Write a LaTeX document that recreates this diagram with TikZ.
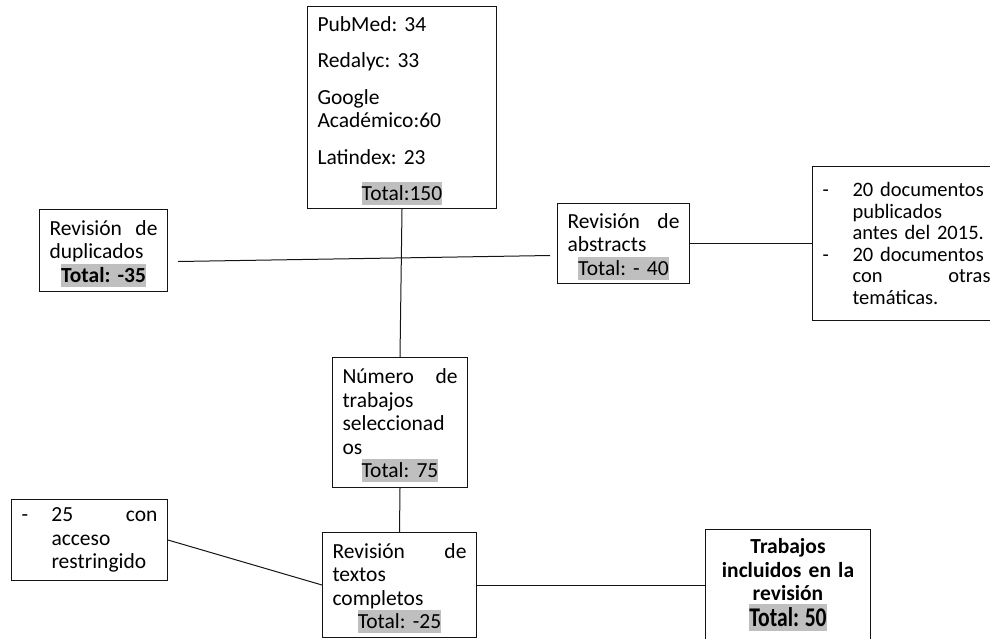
\documentclass[tikz,border=0pt]{standalone}
\usepackage{fontspec}
\setmainfont{Carlito}
\usepackage{xcolor}
\usepackage{graphicx}
\usepackage{tikz}
\usetikzlibrary{positioning}
\definecolor{rvGray}{RGB}{191,191,191}
\definecolor{rvLine}{RGB}{20,20,20}
\newcommand{\tot}[1]{{\setlength{\fboxsep}{0pt}\colorbox{rvGray}{\rule[-4.5pt]{0pt}{23pt}#1}}}
\newcommand{\midtot}[1]{\leavevmode\hfill\tot{#1}\hfill\null}

\begin{document}
\frenchspacing
\begin{tikzpicture}[
  x=1pt, y=-1pt,
  font=\fontsize{21.5}{23.5}\selectfont,
  box/.style={draw=rvLine, line width=1pt, anchor=north west, inner xsep=10pt, inner ysep=0pt},
  totbox/.style={box, execute at begin node={\rule{0pt}{21pt}}},
  ln/.style={draw=rvLine, line width=1pt}
]
\useasboundingbox (0,0) rectangle (990,638);
\node[totbox, minimum width=189pt, minimum height=202pt, text width=169pt] (src) at (307,6)
  {PubMed: 34\\[13pt]Redalyc: 33\\[13pt]Google\\Académico:60\\[13pt]Latindex: 23\\[13pt]\midtot{Total:150}};
\node[totbox, minimum width=128pt, minimum height=82pt, text width=108pt] (dup) at (39,209)
  {Revisión\hfill de\\duplicados\\\midtot{\bfseries Total: -35}};
\node[totbox, minimum width=132pt, minimum height=80pt, text width=112pt] (abs) at (557,203)
  {Revisión\hfill de\\abstracts\\\midtot{Total: - 40}};
\node[box, minimum width=188pt, minimum height=154pt, text width=168pt, font=\fontsize{20.5}{21.6}\selectfont] (exc) at (812,166)
  {\makebox[30pt][l]{-}20 documentos\\\hspace*{30pt}publicados\\\hspace*{30pt}antes del 2015.\\
   \makebox[30pt][l]{-}20 documentos\\\hspace*{30pt}con\hfill otras\\\hspace*{30pt}temáticas.};
\node[totbox, minimum width=135pt, minimum height=130pt, text width=115pt] (num) at (332,357)
  {Número\hfill de\\trabajos\\seleccionad\\os\\\midtot{Total: 75}};
\node[box, minimum width=156pt, minimum height=81pt, text width=136pt] (lim) at (11,499)
  {\makebox[30pt][l]{-}25\hfill con\\\hspace*{30pt}acceso\\\hspace*{30pt}restringido};
\node[totbox, minimum width=154pt, minimum height=105pt, text width=134pt] (txt) at (322,532)
  {Revisión\hfill de\\textos\\completos\\\midtot{Total: -25}};
\node[box, minimum width=165pt, minimum height=111pt, text width=145pt, align=center, font=\fontsize{21.5}{23.5}\selectfont\bfseries] (inc) at (705,529)
  {Trabajos\\incluidos en la\\revisión\\[2pt]
   {\setlength{\fboxsep}{0pt}\colorbox{rvGray}{\rule[-5pt]{0pt}{27pt}\scalebox{0.8}[1]{\fontsize{27}{27}\selectfont Total: 50}}}};

\draw[ln] (src.south) -- (num.north);
\draw[ln] ([xshift=10pt,yshift=-11pt]dup.east) -- ([xshift=-7pt,yshift=-12pt]abs.west);
\draw[ln] (num.south) -- (txt.north);
\foreach \a/\b in {abs/exc, lim/txt, txt/inc} \draw[ln] (\a.east) -- (\b.west);
\end{tikzpicture}
\end{document}
